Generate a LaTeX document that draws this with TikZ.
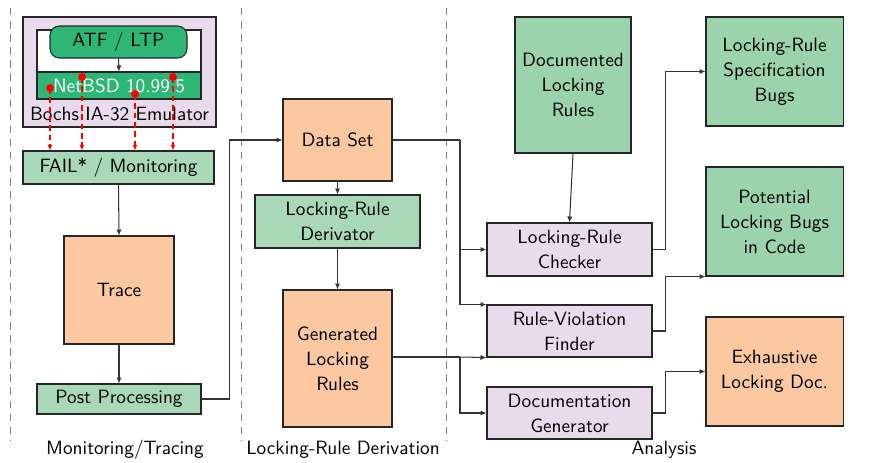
\documentclass[tikz,border=0pt]{standalone}
\usetikzlibrary{arrows.meta}
\def\pxu{0.535pt}
\definecolor{lav}{HTML}{E8DBEC}
\definecolor{mint}{HTML}{A8D8B7}
\definecolor{mintd}{HTML}{9BD3AC}
\definecolor{peach}{HTML}{FBC8A1}
\definecolor{emer}{HTML}{2DB674}
\begin{document}
\begin{tikzpicture}[x=\pxu, y=-\pxu,
  blk/.style={draw=black!85, line width=0.55pt, inner sep=0pt, align=center,
    font=\sffamily\fontsize{10.3}{13.4}\selectfont},
  sz/.style 2 args={minimum width={#1*\pxu}, minimum height={#2*\pxu}},
  lbl/.style={inner sep=0pt, font=\sffamily\fontsize{10.3}{13.4}\selectfont},
  arr/.style={draw=black!80, line width=0.55pt, -{Latex[length=3.2pt,width=2.8pt]}},
  conn/.style={draw=black!80, line width=0.55pt},
  probe/.style={draw=red, line width=0.6pt, dash pattern=on 3pt off 2pt,
    -{Latex[length=3pt,width=2.6pt]}},
  sep/.style={draw=black!50, line width=0.5pt, dash pattern=on 4pt off 3pt}]
\useasboundingbox (0,0) rectangle (876,462);

% phase separators
\draw[sep] (10,8) -- (10,440);
\draw[sep] (241,8) -- (241,440);
\draw[sep] (446,8) -- (446,440);

% emulator with the guest system
\node[blk, sz={193}{110}, fill=lav] (bochs) at (119.5,72) {};
\node[blk, sz={164}{42}, fill=white] (guest) at (119,51) {};
\node[blk, sz={164}{27}, fill=emer, text=white] (netbsd) at (119,85.5) {NetBSD 10.99.5};
\node[blk, sz={137}{32}, fill=emer, rounded corners=5pt] (atf) at (118.5,42) {ATF / LTP};
\node[lbl] (bochslbl) at (119.5,114) {Bochs IA-32 Emulator};
\draw[arr] (atf.south) -- (netbsd.north);

% monitoring / tracing column
\node[blk, sz={191}{33}, fill=mint] (fail) at (118.5,167.5) {FAIL* / Monitoring};
\node[blk, sz={110}{108}, fill=peach] (trace) at (119,290) {Trace};
\node[blk, sz={164}{30}, fill=mint] (post) at (119,399) {Post Processing};

% probes from the guest into the monitor
\foreach \i/\px/\py in {1/50/88, 2/82/77, 3/135/94, 4/173/77} {
  \coordinate (r\i) at (\px,\py);
  \draw[probe] (r\i) -- (r\i |- fail.north);
  \fill[red] (r\i) circle (2.1pt);
}

\draw[arr] (fail.south) -- (trace.north);
\draw[arr] (trace.south) -- (post.north);

% locking-rule derivation column
\node[blk, sz={109}{82}, fill=peach] (dataset) at (337.5,140) {Data Set};
\node[blk, sz={165}{53}, fill=mint] (deriv) at (337.5,221.5) {Locking-Rule\\Derivator};
\node[blk, sz={109}{137}, fill=peach] (gen) at (337.5,358.5) {Generated\\Locking\\Rules};

\draw[arr] (post.east) -- ++(28,0) |- (dataset.west);
\draw[arr] (dataset.south) -- (deriv.north);
\draw[arr] (deriv.south) -- (gen.north);

% analysis column
\node[blk, sz={116}{136}, fill=mintd] (documented) at (573,85) {Documented\\Locking\\Rules};
\node[blk, sz={165}{53}, fill=lav] (checker) at (569.5,249.5) {Locking-Rule\\Checker};
\node[blk, sz={165}{52}, fill=lav] (finder) at (569.5,331) {Rule-Violation\\Finder};
\node[blk, sz={165}{52}, fill=lav] (docgen) at (569.5,413) {Documentation\\Generator};

\node[blk, sz={137}{109}, fill=mintd] (spec) at (774.5,71.5) {Locking-Rule\\Specification\\Bugs};
\node[blk, sz={137}{109}, fill=mintd] (potential) at (774.5,221.5) {Potential\\Locking Bugs\\in Code};
\node[blk, sz={137}{109}, fill=peach] (exhaustive) at (774.5,371.5) {Exhaustive\\Locking Doc.};

\coordinate (busA) at (460,140);
\coordinate (busB) at (460,357);
\draw[conn] (dataset.east) -- (busA);
\draw[arr] (busA) |- (checker.west);
\draw[arr] (busA) |- (finder.north west);
\draw[conn] (gen.east |- busB) -- (busB);
\draw[arr] (busB) -- (finder.south west);
\draw[arr] (busB) |- (docgen.west);

\draw[arr] (documented.south) -- (checker.north);
\draw[arr] (checker.east) -- ++(13,0) |- (spec.west);
\draw[arr] (finder.east) -- ++(13,0) |- (potential.south west);
\draw[arr] (docgen.east) -- ++(13,0) |- (exhaustive.west);

% phase captions
\node[lbl] (cap1) at (125,450) {Monitoring/Tracing};
\node[lbl] (cap2) at (343,450) {Locking-Rule Derivation};
\node[lbl] (cap3) at (664,450) {Analysis};
\end{tikzpicture}
\end{document}
